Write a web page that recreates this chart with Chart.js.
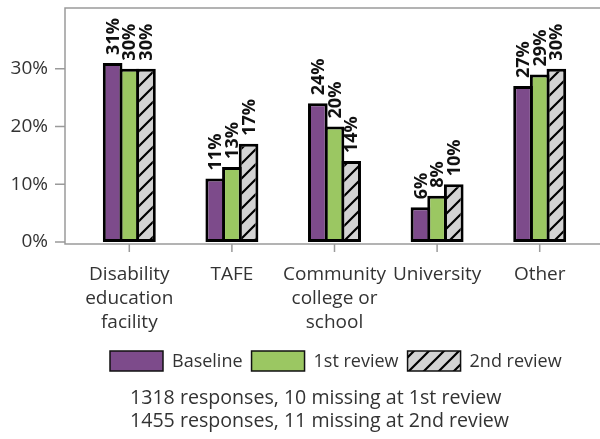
<!DOCTYPE html>
<html>
<head>
<meta charset="utf-8">
<script src="https://cdn.jsdelivr.net/npm/chart.js@4.4.0/dist/chart.umd.min.js"></script>
<style>
  html, body { margin: 0; padding: 0; background: #fff; }
</style>
</head>
<body>
<canvas id="chart" width="600" height="439"></canvas>
<script>
// Datos del gráfico
const categories = [["Disability", "education", "facility"], "TAFE", ["Community", "college or", "school"], "University", "Other"];
const seriesNames = ["Baseline", "1st review", "2nd review"];
const baseline = [31, 11, 24, 6, 27];
const review1 = [30, 13, 20, 8, 29];
const review2 = [30, 17, 14, 10, 30];
const yTicks = [0, 10, 20, 30];
const footnotes = ["1318 responses, 10 missing at 1st review", "1455 responses, 11 missing at 2nd review"];

const FONT = "'Open Sans', 'DejaVu Sans', sans-serif";

// Patrón rayado para la 2da revisión
function makeHatch() {
    const s = 15;
    const c = document.createElement("canvas");
    c.width = s; c.height = s;
    const g = c.getContext("2d");
    g.fillStyle = "#d3d3d3";
    g.fillRect(0, 0, s, s);
    g.strokeStyle = "#000";
    g.lineWidth = 2.2;
    g.beginPath();
    g.moveTo(0, s); g.lineTo(s, 0);
    g.moveTo(-s / 2, s / 2); g.lineTo(s / 2, -s / 2);
    g.moveTo(s / 2, s * 1.5); g.lineTo(s * 1.5, s / 2);
    g.stroke();
    return g.createPattern(c, "repeat");
}

const ctx = document.getElementById("chart").getContext("2d");
const hatch = makeHatch();
const fills = ["#7d4b8b", "#9bc762", hatch];

// Marco, ejes y marcas
const framePlugin = {
    id: "frame",
    beforeDatasetsDraw(chart) {
        const c = chart.ctx;
        const area = chart.chartArea;
        const left = area.left - 13;
        const bottom = area.bottom + 2;
        c.save();
        c.strokeStyle = "#9a9a9a";
        c.lineWidth = 1.5;
        c.beginPath();
        c.moveTo(chart.width, area.top);
        c.lineTo(left, area.top);
        c.lineTo(left, bottom);
        c.lineTo(chart.width, bottom);
        yTicks.forEach(v => {
            const py = chart.scales.y.getPixelForValue(v);
            c.moveTo(left - 10, py);
            c.lineTo(left, py);
        });
        categories.forEach((_, i) => {
            const px = chart.scales.x.getPixelForValue(i);
            c.moveTo(px, bottom);
            c.lineTo(px, bottom + 8);
        });
        c.stroke();
        c.restore();
    },
    afterDatasetsDraw(chart) {
        const c = chart.ctx;
        c.save();
        c.fillStyle = "#111";
        c.font = "bold 18px " + FONT;
        c.textAlign = "left";
        c.textBaseline = "middle";
        chart.data.datasets.forEach((ds, di) => {
            chart.getDatasetMeta(di).data.forEach((bar, i) => {
                c.save();
                c.translate(bar.x + 1, bar.y - 8);
                c.rotate(-Math.PI / 2);
                c.fillText(ds.data[i] + "%", 0, 0);
                c.restore();
            });
        });
        c.restore();
    },
    afterDraw(chart) {
        const c = chart.ctx;
        c.save();
        // leyenda
        c.font = "18px " + FONT;
        c.textBaseline = "middle";
        c.textAlign = "left";
        let x = 110;
        const by = 351;
        chart.data.datasets.forEach((ds) => {
            c.fillStyle = ds.backgroundColor;
            c.fillRect(x, by, 53, 20);
            c.strokeStyle = "#111";
            c.lineWidth = 1.5;
            c.strokeRect(x, by, 53, 20);
            x += 53 + 9;
            c.fillStyle = "#333";
            c.fillText(ds.label, x, by + 11);
            x += c.measureText(ds.label).width + 9;
        });
        // notas al pie
        c.font = "19.6px " + FONT;
        footnotes.forEach((t, i) => {
            c.fillText(t, 130, 398 + i * 23);
        });
        c.restore();
    }
};

new Chart(ctx, {
    type: "bar",
    data: {
        labels: categories,
        datasets: [
            { label: seriesNames[0], data: baseline, backgroundColor: fills[0] },
            { label: seriesNames[1], data: review1, backgroundColor: fills[1] },
            { label: seriesNames[2], data: review2, backgroundColor: fills[2] }
        ].map(d => Object.assign(d, {
            borderColor: "#000",
            borderWidth: 3,
            borderSkipped: false,
            categoryPercentage: 0.487,
            barPercentage: 1.18
        }))
    },
    options: {
        responsive: false,
        animation: false,
        devicePixelRatio: 1,
        layout: { padding: { left: 0, right: 9, top: 8, bottom: 0 } },
        plugins: {
            legend: { display: false },
            tooltip: { enabled: false }
        },
        scales: {
            x: {
                grid: { display: false, drawTicks: false },
                border: { display: false },
                ticks: {
                    color: "#333",
                    font: { family: FONT, size: 19, lineHeight: 1.25 },
                    padding: 21,
                    maxRotation: 0,
                    autoSkip: false
                },
                afterFit(scale) {
                    scale.height = 197;
                    scale.paddingLeft = 0;
                    scale.paddingRight = 0;
                }
            },
            y: {
                min: 0,
                max: 40.5,
                grid: { display: false, drawTicks: false },
                border: { display: false },
                afterBuildTicks(scale) {
                    scale.ticks = yTicks.map(v => ({ value: v }));
                },
                ticks: {
                    color: "#333",
                    font: { family: FONT, size: 19 },
                    padding: 30,
                    callback: v => v + "%"
                },
                afterFit(scale) {
                    scale.width = 78;
                    scale.paddingTop = 0;
                    scale.paddingBottom = 0;
                }
            }
        }
    },
    plugins: [framePlugin]
});
</script>
</body>
</html>
